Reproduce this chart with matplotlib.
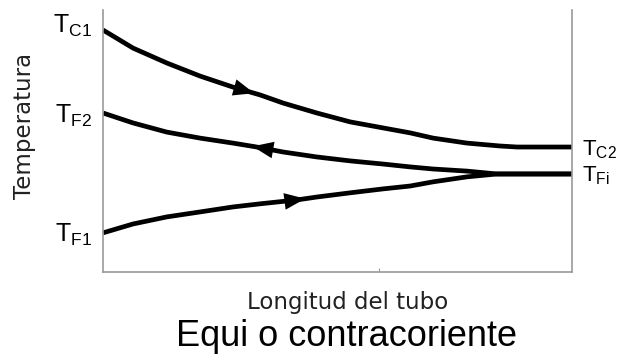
import numpy as np
import matplotlib.pyplot as plt

plt.rcParams['font.family'] = ['Liberation Sans', 'DejaVu Sans']
plt.rcParams['mathtext.fontset'] = 'custom'
plt.rcParams['mathtext.rm'] = 'Liberation Sans'

# tube length (fraction) and temperature (arbitrary units)
x_hot = [0, .064, .136, .207, .277, .335, .384, .456, .527, .597, .655, .704, .776, .846, .883, 1.0]
y_hot = [92.4, 85.5, 79.8, 74.8, 70.6, 67.6, 64.5, 60.7, 57.3, 55.0, 53.1, 51.1, 49.2, 48.1, 47.7, 47.7]

x_f2 = [0, .064, .136, .207, .277, .328, .384, .456, .527, .597, .655, .704, .776, .840, .917, 1.0]
y_f2 = [60.7, 56.9, 53.4, 51.1, 49.2, 47.7, 45.8, 43.9, 42.4, 41.2, 40.1, 39.3, 38.5, 37.4, 37.4, 37.4]

x_f1 = [0, .064, .136, .207, .277, .335, .414, .456, .527, .597, .655, .704, .776, .840, .917, 1.0]
y_f1 = [14.9, 18.3, 21.0, 22.9, 24.8, 26.0, 27.5, 28.6, 30.2, 31.7, 32.8, 34.4, 36.3, 37.4, 37.4, 37.4]

left_labels = [r'$\mathrm{T_{C1}}$', r'$\mathrm{T_{F2}}$', r'$\mathrm{T_{F1}}$']
right_labels = [r'$\mathrm{T_{C2}}$', r'$\mathrm{T_{Fi}}$']

fig = plt.figure(figsize=(6.17, 3.62), dpi=100)
ax = fig.add_axes([0.167, 0.249, 0.76, 0.723])

for xs, ys in [(x_hot, y_hot), (x_f2, y_f2), (x_f1, y_f1)]:
    ax.plot(xs, ys, color='black', lw=3.4, solid_capstyle='butt', solid_joinstyle='round')

# flow direction arrows: curve, tip position, direction
arrows = [(x_hot, y_hot, 0.328, 1), (x_f2, y_f2, 0.313, -1), (x_f1, y_f1, 0.437, 1)]
for xs, ys, xp, d in arrows:
    x0 = xp - 0.035 * d
    ax.annotate('', xy=(xp, np.interp(xp, xs, ys)),
                xytext=(x0, np.interp(x0, xs, ys)),
                arrowprops=dict(arrowstyle='-|>,head_length=0.75,head_width=0.3',
                                color='black', lw=0, mutation_scale=20))

ax.set_xlim(0, 1)
ax.set_ylim(0, 100)
ax.spines['top'].set_visible(False)
for s in ['left', 'right', 'bottom']:
    ax.spines[s].set_color('#999999')
    ax.spines[s].set_linewidth(1.2)
ax.set_xticks([0.588])
ax.set_xticklabels([])
ax.set_yticks([])
ax.tick_params(axis='x', direction='in', length=3, color='#999999')

for lab, y in zip(left_labels, [y_hot[0] + 1.5, y_f2[0] - 1, y_f1[0] - 0.8]):
    ax.text(-0.023, y, lab, ha='right', va='center', fontsize=18)
ax.text(1.021, y_hot[-1] - 1, right_labels[0], ha='left', va='center', fontsize=16)
ax.text(1.021, y_f1[-1] - 0.6, right_labels[1], ha='left', va='center', fontsize=16)

ax.set_ylabel('Temperatura', fontsize=16.5, family='DejaVu Sans', color='#222222',
              ha='center', va='center')
ax.yaxis.set_label_coords(-0.168, 0.557)
ax.set_xlabel('Longitud del tubo', fontsize=16.5, family='DejaVu Sans', color='#222222',
              ha='center', va='center')
ax.xaxis.set_label_coords(0.521, -0.117)

fig.text(0.562, 0.045, 'Equi o contracoriente', ha='center', va='baseline', fontsize=26)

plt.savefig('out.png')
